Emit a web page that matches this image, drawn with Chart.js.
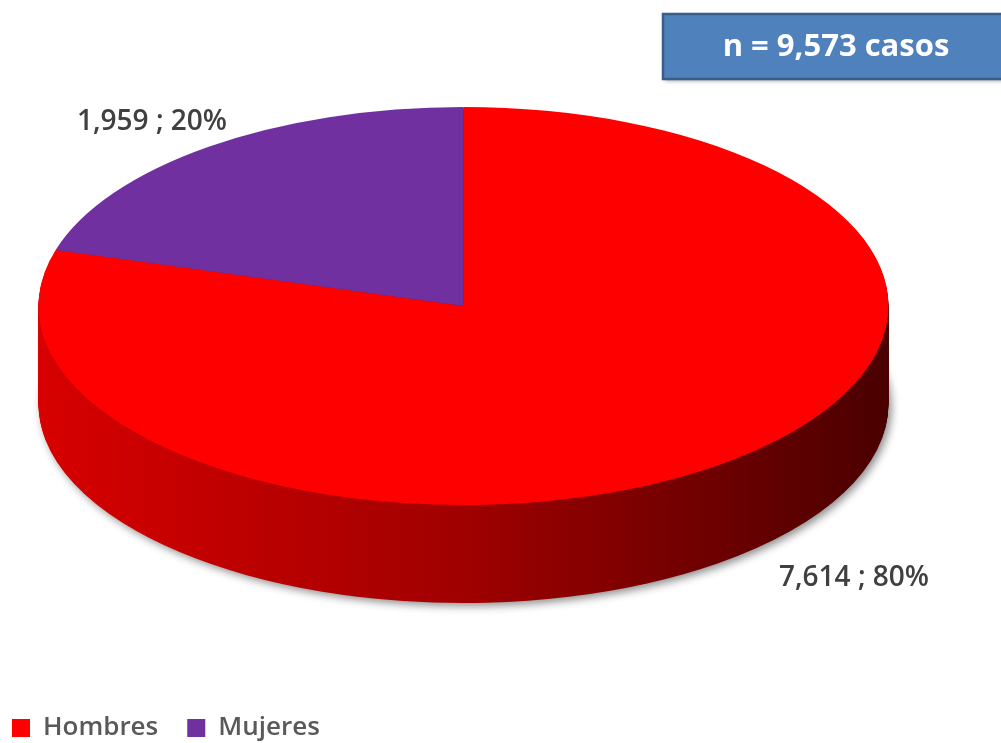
<!DOCTYPE html>
<html>
<head>
<meta charset="utf-8">
<script src="https://cdn.jsdelivr.net/npm/chart.js@4.4.1/dist/chart.umd.min.js"></script>
<style>
  body { margin: 0; background: #fff; }
  canvas { display: block; }
</style>
</head>
<body>
<canvas id="myChart" width="1001" height="743"></canvas>
<script>
var categories = ['Hombres', 'Mujeres'];
var casos = [7614, 1959];
var porcentajes = [80, 20];
var colores = ['#ff0000', '#7030a0'];

// fake 3d look: squash the pie and stack darker copies under it
var pie3d = {
  id: 'pie3d',
  beforeDatasetsDraw: function (chart, args, opts) {
    var ctx = chart.ctx;
    var arcs = chart.getDatasetMeta(0).data;
    var p = arcs[0].getProps(['x', 'y', 'outerRadius'], true);
    var sx = opts.rx / p.outerRadius, sy = opts.ry / p.outerRadius;
    var grad = ctx.createLinearGradient(p.x - p.outerRadius, 0, p.x + p.outerRadius, 0);
    grad.addColorStop(0, '#d80000');
    grad.addColorStop(0.5, '#a00000');
    grad.addColorStop(1, '#4a0000');

    for (var d = opts.depth; d > 0; d--) {
      ctx.save();
      ctx.translate(p.x, p.y + opts.shiftY + d);
      ctx.scale(sx, sy);
      ctx.translate(-p.x, -p.y);
      if (d === opts.depth) {
        ctx.shadowColor = 'rgba(0,0,0,0.45)';
        ctx.shadowBlur = 8;
        ctx.shadowOffsetX = 3;
        ctx.shadowOffsetY = 3;
      }
      arcs.forEach(function (arc) {
        var bg = arc.options.backgroundColor;
        arc.options.backgroundColor = grad;
        arc.draw(ctx);
        arc.options.backgroundColor = bg;
      });
      ctx.restore();
    }

    ctx.save();
    ctx.translate(p.x, p.y + opts.shiftY);
    ctx.scale(sx, sy);
    ctx.translate(-p.x, -p.y);
  },
  afterDatasetsDraw: function (chart, args, opts) {
    var ctx = chart.ctx;
    ctx.restore();

    // data labels
    var arcs = chart.getDatasetMeta(0).data;
    ctx.save();
    ctx.font = '600 28px "Open Sans", sans-serif';
    ctx.fillStyle = '#404040';
    ctx.textAlign = 'center';
    ctx.textBaseline = 'middle';
    arcs.forEach(function (arc, i) {
      var a = arc.getProps(['x', 'y', 'startAngle', 'endAngle'], true);
      var mid = (a.startAngle + a.endAngle) / 2;
      var lx = a.x + Math.cos(mid) * opts.rx * 1.25 + opts.nudge[i][0];
      var ly = a.y + opts.shiftY + Math.sin(mid) * opts.ry * 1.25 + opts.nudge[i][1];
      if (Math.sin(mid) > 0) ly += opts.depth;
      ctx.fillText(casos[i].toLocaleString('en-US') + ' ; ' + porcentajes[i] + '%', lx, ly);
    });
    ctx.restore();
  },
  afterDraw: function (chart, args, opts) {
    var ctx = chart.ctx;
    var b = opts.box;
    var total = casos.reduce(function (s, v) { return s + v; }, 0);
    ctx.save();
    ctx.shadowColor = 'rgba(0,0,0,0.35)';
    ctx.shadowBlur = 4;
    ctx.shadowOffsetX = 2;
    ctx.shadowOffsetY = 2;
    ctx.fillStyle = '#4f81bd';
    ctx.fillRect(b.x, b.y, b.w, b.h);
    ctx.shadowColor = 'transparent';
    ctx.strokeStyle = '#385d8a';
    ctx.lineWidth = 2.5;
    ctx.strokeRect(b.x, b.y, b.w, b.h);
    ctx.fillStyle = '#ffffff';
    ctx.font = 'bold 31px "Open Sans", sans-serif';
    ctx.textAlign = 'center';
    ctx.textBaseline = 'middle';
    ctx.fillText('n = ' + total.toLocaleString('en-US') + ' casos', 836, b.y + b.h / 2 + 1);
    ctx.restore();
  }
};

var ctx = document.getElementById('myChart').getContext('2d');
var myChart = new Chart(ctx, {
  type: 'pie',
  data: {
    labels: categories,
    datasets: [{
      data: casos,
      backgroundColor: colores,
      borderWidth: 0
    }]
  },
  options: {
    responsive: false,
    animation: false,
    layout: {
      padding: { left: -17, right: 74, top: 0, bottom: -8 }
    },
    plugins: {
      tooltip: { enabled: false },
      legend: {
        position: 'bottom',
        align: 'start',
        labels: {
          boxWidth: 18,
          boxHeight: 18,
          padding: 29,
          color: '#595959',
          font: { family: 'Open Sans', size: 26, weight: '600' }
        }
      },
      pie3d: {
        rx: 425,
        ry: 199,
        depth: 98,
        shiftY: -37,
        nudge: [[72, -25], [7, 15]],
        box: { x: 663, y: 14, w: 345, h: 65 }
      }
    }
  },
  plugins: [pie3d]
});
</script>
</body>
</html>
